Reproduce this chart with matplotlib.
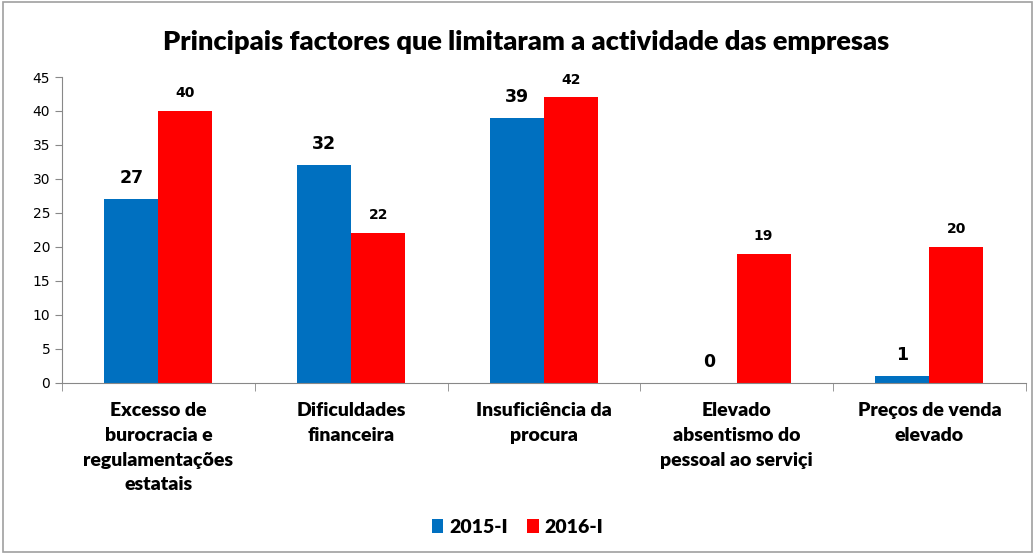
import matplotlib.pyplot as plt
import numpy as np
from matplotlib.patches import Rectangle

categories = [
    "Excesso de\nburocracia e\nregulamentações\nestatais",
    "Dificuldades\nfinanceira",
    "Insuficiência da\nprocura",
    "Elevado\nabsentismo do\npessoal ao serviçi",
    "Preços de venda\nelevado",
]
series_names = ["2015-I", "2016-I"]
vals_2015 = [27, 32, 39, 0, 1]
vals_2016 = [40, 22, 42, 19, 20]
yticks = list(range(0, 50, 5))

BLUE = "#0070C0"
RED = "#FF0000"

plt.rcParams["font.family"] = ["Lato", "DejaVu Sans"]

fig = plt.figure(figsize=(10.35, 5.54), dpi=100)
fig.patches.append(Rectangle((0.003, 0.003), 0.994, 0.994, transform=fig.transFigure,
                             fill=False, edgecolor="#A0A0A0", lw=1.2))
ax = fig.add_axes([0.060, 0.309, 0.931, 0.552])

x = np.arange(len(categories))
w = 0.28
b1 = ax.bar(x - w / 2, vals_2015, w, color=BLUE, label=series_names[0])
b2 = ax.bar(x + w / 2, vals_2016, w, color=RED, label=series_names[1])

for xi, v in zip(x, vals_2015):
    ax.text(xi - w / 2, v + 1.8, str(v), ha="center", va="bottom",
            fontsize=12.5, fontweight="bold", family="DejaVu Sans")
for xi, v in zip(x, vals_2016):
    ax.text(xi + w / 2, v + 1.6, str(v), ha="center", va="bottom",
            fontsize=10, fontweight="bold", family="DejaVu Sans")

ax.set_xlim(-0.5, len(categories) - 0.5)
ax.set_ylim(0, 45)
ax.set_yticks(yticks)
ax.set_yticklabels([str(t) for t in yticks], fontsize=10, family="DejaVu Sans")
ax.set_xticks(x)
ax.set_xticklabels(categories, fontsize=14, fontweight="heavy", linespacing=1.55)
ax.tick_params(axis="x", length=0, pad=14)
ax.set_xticks(np.arange(-0.5, len(categories)), minor=True)
ax.tick_params(axis="x", which="minor", length=6, color="#888888")
ax.tick_params(axis="y", length=5, color="#888888")

for s in ["top", "right"]:
    ax.spines[s].set_visible(False)
for s in ["left", "bottom"]:
    ax.spines[s].set_color("#888888")

fig.text(0.508, 0.924, "Principais factores que limitaram a actividade das empresas",
         ha="center", va="center", fontsize=19.5, fontweight="heavy")

fig.legend(handles=[b1, b2], loc="center", bbox_to_anchor=(0.5, 0.048), ncol=2,
           frameon=False, prop={"weight": "heavy", "size": 14},
           handlelength=0.6, handleheight=0.7, handletextpad=0.3, columnspacing=1.0)

fig.savefig("out.png", dpi=100)
